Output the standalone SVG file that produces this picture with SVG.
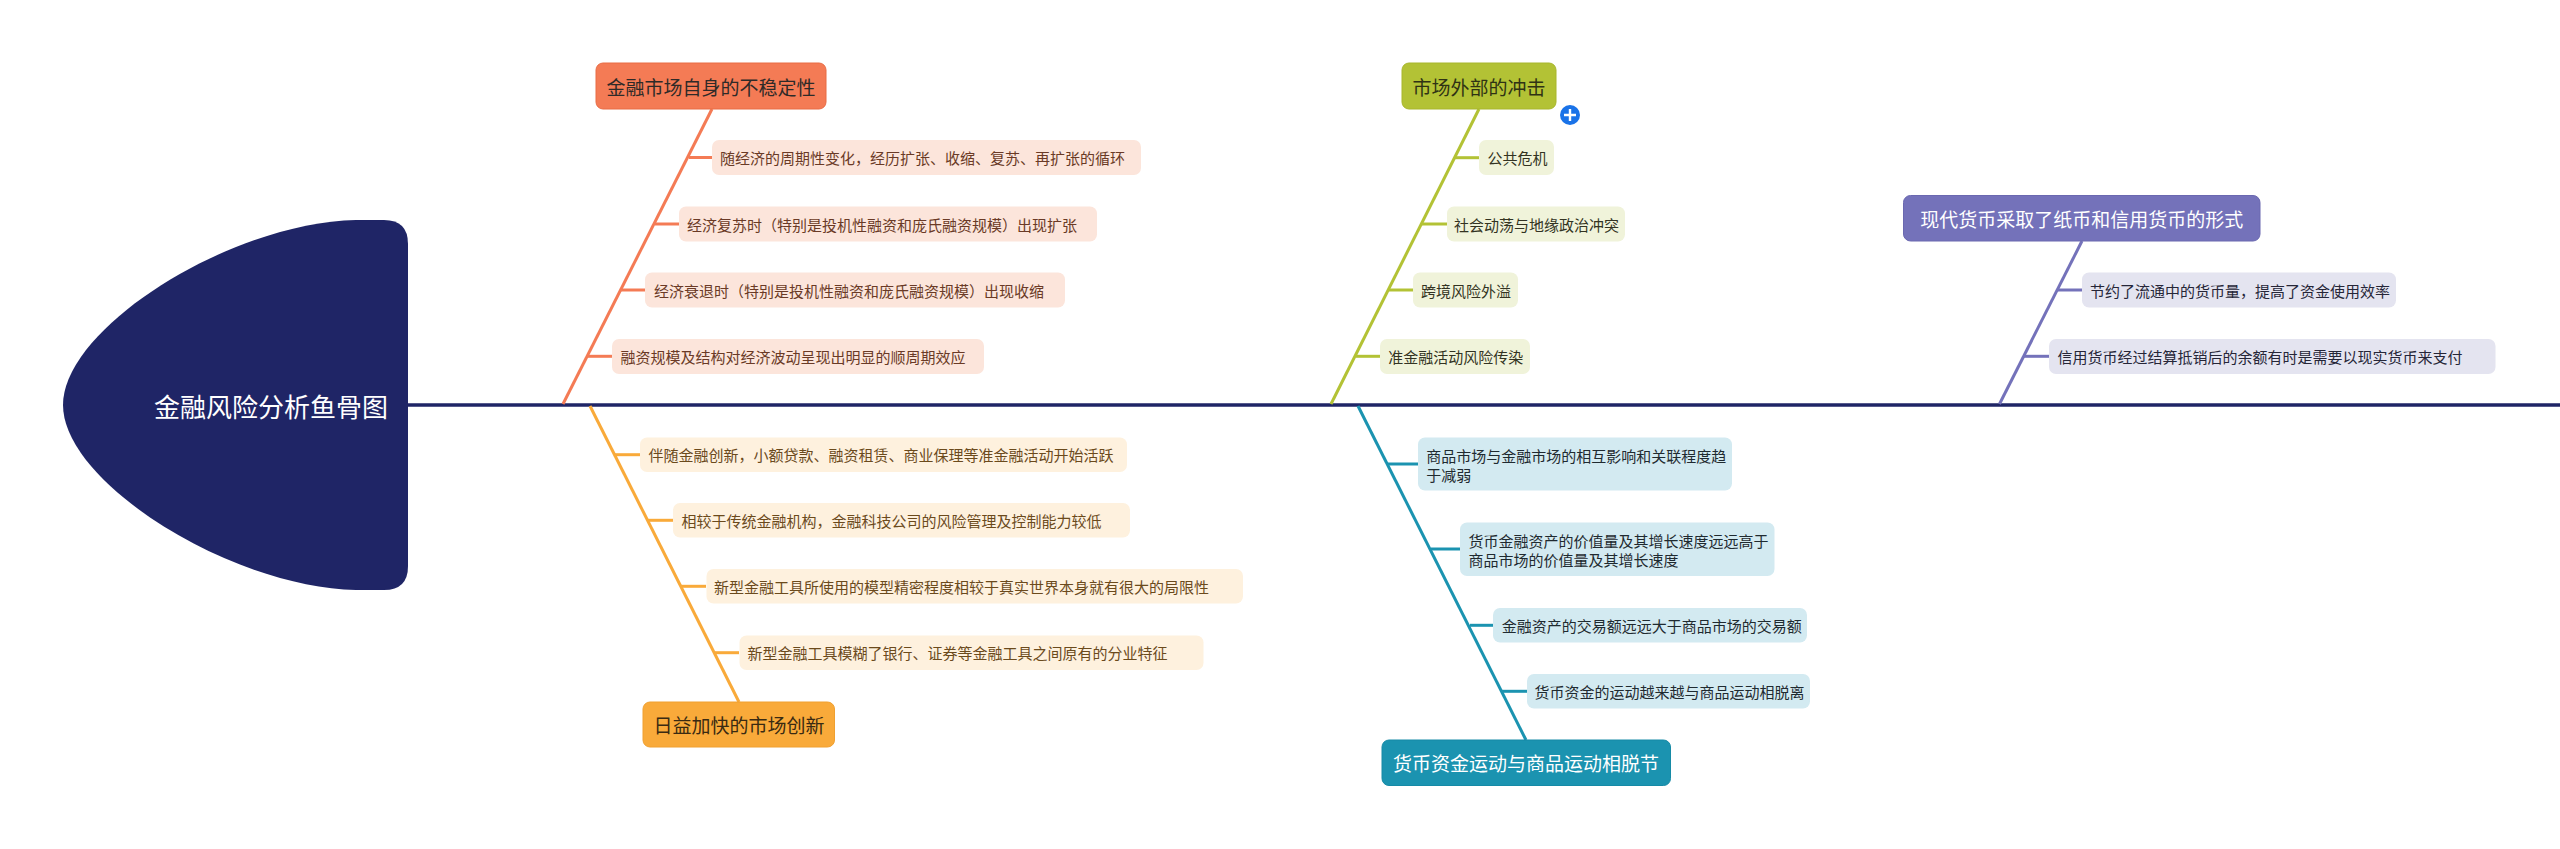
<svg xmlns="http://www.w3.org/2000/svg" width="2560" height="849" viewBox="0 0 2560 849">
<style>
text{font-family:"Noto Sans CJK SC","Noto Sans",sans-serif;dominant-baseline:central}
.main{font-size:19px}
.sub{font-size:15px}
.bone{fill:none;stroke-width:3}
.tick{fill:none;stroke-width:3}
</style>
<rect width="2560" height="849" fill="#ffffff"/>
<g id="connectors">
<line x1="400" y1="405" x2="2560" y2="405" stroke="#1f2566" stroke-width="3.5"/>
<g stroke="#F47B55" class="bone">
<line x1="712" y1="109" x2="563" y2="404"/>
<line x1="689" y1="157.5" x2="712" y2="157.5"/>
<line x1="655" y1="224" x2="679" y2="224"/>
<line x1="621" y1="290" x2="645" y2="290"/>
<line x1="588" y1="356.3" x2="612" y2="356.3"/>
</g>
<g stroke="#F9AA3A" class="bone">
<line x1="590" y1="406" x2="739" y2="702"/>
<line x1="615" y1="454.7" x2="640" y2="454.7"/>
<line x1="648" y1="520.3" x2="673" y2="520.3"/>
<line x1="681" y1="586.3" x2="706" y2="586.3"/>
<line x1="714" y1="652.7" x2="739" y2="652.7"/>
</g>
<g stroke="#B3C235" class="bone">
<line x1="1479" y1="109" x2="1331" y2="404"/>
<line x1="1455" y1="157.7" x2="1479" y2="157.7"/>
<line x1="1422" y1="224" x2="1447" y2="224"/>
<line x1="1389" y1="290" x2="1413" y2="290"/>
<line x1="1356" y1="356.3" x2="1380" y2="356.3"/>
</g>
<g stroke="#1B93B0" class="bone">
<line x1="1358" y1="406" x2="1526" y2="740"/>
<line x1="1388" y1="464" x2="1418" y2="464"/>
<line x1="1431" y1="549" x2="1460" y2="549"/>
<line x1="1470" y1="625.3" x2="1493" y2="625.3"/>
<line x1="1502" y1="691.3" x2="1527" y2="691.3"/>
</g>
<g stroke="#7472BA" class="bone">
<line x1="2082" y1="241" x2="1999.5" y2="404"/>
<line x1="2057" y1="290" x2="2082" y2="290"/>
<line x1="2024" y1="356.3" x2="2049" y2="356.3"/>
</g>
</g>
<g id="head">
<path d="M356,220 C262,222 140,282 86,350 Q63,380 63,405 Q63,430 86,460 C140,528 262,588 356,590 L384,590 Q408,590 408,566 L408,244 Q408,220 384,220 Z" fill="#1f2566"/>
<text x="271" y="405" font-size="26" fill="#ffffff" text-anchor="middle">金融风险分析鱼骨图</text>
</g>
<g id="n1">
<rect x="596" y="63" width="230" height="46" rx="7" fill="#F47B55" stroke="#e86c45"/>
<text class="main" x="711" y="86.5" fill="#2e2a28" text-anchor="middle">金融市场自身的不稳定性</text>
</g>
<g id="n1a"><rect x="712" y="140" width="429" height="35" rx="7" fill="#FCE5DB"/><text class="sub" x="720" y="157.5" fill="#6a3a26">随经济的周期性变化，经历扩张、收缩、复苏、再扩张的循环</text></g>
<g id="n1b"><rect x="679" y="206.5" width="418" height="35" rx="7" fill="#FCE5DB"/><text class="sub" x="687" y="224" fill="#6a3a26">经济复苏时（特别是投机性融资和庞氏融资规模）出现扩张</text></g>
<g id="n1c"><rect x="645" y="272.5" width="420" height="35" rx="7" fill="#FCE5DB"/><text class="sub" x="654" y="290" fill="#6a3a26">经济衰退时（特别是投机性融资和庞氏融资规模）出现收缩</text></g>
<g id="n1d"><rect x="612" y="339" width="372" height="35" rx="7" fill="#FCE5DB"/><text class="sub" x="620.5" y="356.3" fill="#6a3a26">融资规模及结构对经济波动呈现出明显的顺周期效应</text></g>

<g id="n2">
<rect x="643" y="702" width="191.5" height="45" rx="7" fill="#F9AA3A" stroke="#f0a030"/>
<text class="main" x="739" y="724" fill="#3a2a12" text-anchor="middle">日益加快的市场创新</text>
</g>
<g id="n2a"><rect x="640" y="437.5" width="487" height="34.5" rx="7" fill="#FEF1DE"/><text class="sub" x="648.5" y="454.7" fill="#6b4a1c">伴随金融创新，小额贷款、融资租赁、商业保理等准金融活动开始活跃</text></g>
<g id="n2b"><rect x="673" y="503" width="457" height="34.5" rx="7" fill="#FEF1DE"/><text class="sub" x="681.5" y="520.3" fill="#6b4a1c">相较于传统金融机构，金融科技公司的风险管理及控制能力较低</text></g>
<g id="n2c"><rect x="706.5" y="569" width="536.5" height="34.5" rx="7" fill="#FEF1DE"/><text class="sub" x="714" y="586.3" fill="#6b4a1c">新型金融工具所使用的模型精密程度相较于真实世界本身就有很大的局限性</text></g>
<g id="n2d"><rect x="739.5" y="635.5" width="464" height="34.5" rx="7" fill="#FEF1DE"/><text class="sub" x="747.5" y="652.7" fill="#6b4a1c">新型金融工具模糊了银行、证券等金融工具之间原有的分业特征</text></g>

<g id="n3">
<rect x="1402" y="63" width="154" height="46" rx="7" fill="#B3C235" stroke="#a8b62c"/>
<text class="main" x="1479" y="86.5" fill="#2f3214" text-anchor="middle">市场外部的冲击</text>
<circle cx="1570" cy="115" r="10" fill="#1a73e8"/>
<path d="M1564,115 H1576 M1570,109 V121" stroke="#ffffff" stroke-width="2.4"/>
</g>
<g id="n3a"><rect x="1479" y="140" width="75" height="35" rx="7" fill="#F0F3DA"/><text class="sub" x="1487.5" y="157.7" fill="#333322">公共危机</text></g>
<g id="n3b"><rect x="1447" y="206.5" width="178" height="35" rx="7" fill="#F0F3DA"/><text class="sub" x="1454" y="224" fill="#333322">社会动荡与地缘政治冲突</text></g>
<g id="n3c"><rect x="1413" y="272.5" width="105" height="35" rx="7" fill="#F0F3DA"/><text class="sub" x="1421" y="290" fill="#333322">跨境风险外溢</text></g>
<g id="n3d"><rect x="1380" y="339" width="150" height="35" rx="7" fill="#F0F3DA"/><text class="sub" x="1388.3" y="356.3" fill="#333322">准金融活动风险传染</text></g>

<g id="n4">
<rect x="1382" y="740" width="288.5" height="45.5" rx="7" fill="#1B93B0" stroke="#168aa6"/>
<text class="main" x="1526" y="762.7" fill="#ffffff" text-anchor="middle">货币资金运动与商品运动相脱节</text>
</g>
<g id="n4a"><rect x="1418" y="437.5" width="314" height="53" rx="7" fill="#D3EAF1"/><text class="sub" fill="#1f2a30"><tspan x="1426.3" y="455">商品市场与金融市场的相互影响和关联程度趋</tspan><tspan x="1426.3" y="474">于减弱</tspan></text></g>
<g id="n4b"><rect x="1460" y="522.5" width="314.5" height="53.5" rx="7" fill="#D3EAF1"/><text class="sub" fill="#1f2a30"><tspan x="1468.4" y="540">货币金融资产的价值量及其增长速度远远高于</tspan><tspan x="1468.4" y="559">商品市场的价值量及其增长速度</tspan></text></g>
<g id="n4c"><rect x="1493" y="608" width="314" height="34.5" rx="7" fill="#D3EAF1"/><text class="sub" x="1501.7" y="625.3" fill="#1f2a30">金融资产的交易额远远大于商品市场的交易额</text></g>
<g id="n4d"><rect x="1527" y="674" width="283" height="34.5" rx="7" fill="#D3EAF1"/><text class="sub" x="1534.6" y="691.3" fill="#1f2a30">货币资金的运动越来越与商品运动相脱离</text></g>

<g id="n5">
<rect x="1903.5" y="195.5" width="356.5" height="45.5" rx="7" fill="#7472BA" stroke="#6a68b0"/>
<text class="main" x="2081.7" y="218.5" fill="#ffffff" text-anchor="middle">现代货币采取了纸币和信用货币的形式</text>
</g>
<g id="n5a"><rect x="2082" y="272.5" width="314" height="35" rx="7" fill="#E4E4F0"/><text class="sub" x="2090" y="290" fill="#262638">节约了流通中的货币量，提高了资金使用效率</text></g>
<g id="n5b"><rect x="2049" y="339" width="446.5" height="35" rx="7" fill="#E4E4F0"/><text class="sub" x="2057.4" y="356.3" fill="#262638">信用货币经过结算抵销后的余额有时是需要以现实货币来支付</text></g>
</svg>
